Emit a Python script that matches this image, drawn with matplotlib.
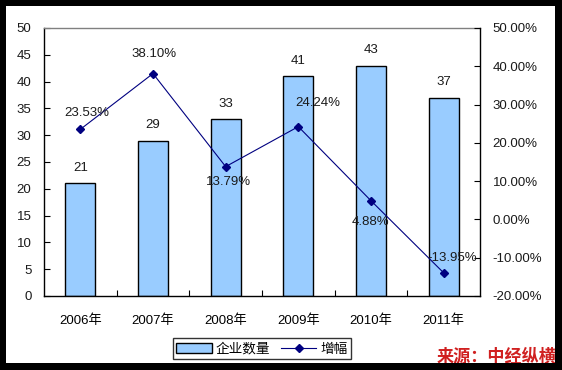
import matplotlib
matplotlib.use("Agg")
import matplotlib.pyplot as plt
from matplotlib.patches import Rectangle
from matplotlib.lines import Line2D
from matplotlib.ticker import FuncFormatter

plt.rcParams['font.family'] = ['Liberation Sans', 'Noto Sans CJK SC', 'DejaVu Sans']

categories = ['2006年', '2007年', '2008年', '2009年', '2010年', '2011年']
companies = [21, 29, 33, 41, 43, 37]
growth = [23.53, 38.10, 13.79, 24.24, 4.88, -13.95]
growth_labels = ['23.53%', '38.10%', '13.79%', '24.24%', '4.88%', '-13.95%']
growth_offsets = [(5, 12), (1, 14), (2, -11), (14, 17), (0, -15), (6, 11)]

W, H = 562, 370
fig = plt.figure(figsize=(W / 100, H / 100), dpi=100)
fig.patch.set_facecolor('white')

L, R, T, B = 44, 480, 28, 296
ax = fig.add_axes([L / W, (H - B) / H, (R - L) / W, (B - T) / H])
x = list(range(len(categories)))
bars = ax.bar(x, companies, width=0.41, color='#99CCFF', edgecolor='black', linewidth=1.0, zorder=2)
ax.set_xlim(-0.5, len(categories) - 0.5)
ax.set_ylim(0, 50)
ax.set_yticks(range(0, 51, 5))
ax.set_xticks(x)
ax.set_xticklabels(categories)
ax.set_xticks([i + 0.5 for i in range(len(categories) - 1)], minor=True)
ax.tick_params(axis='x', which='major', length=0, pad=13, labelsize=9.5)
ax.tick_params(axis='x', which='minor', direction='in', length=4, width=0.8)
ax.tick_params(axis='y', direction='in', length=4, width=0.8, pad=9, labelsize=9.5, labelcolor='#1a1a1a')
for s in ['left', 'bottom']:
    ax.spines[s].set_color('black')
    ax.spines[s].set_linewidth(1.0)
ax.spines['top'].set_color('#808080')
ax.spines['top'].set_linewidth(1.0)
ax.spines['right'].set_visible(False)

for xi, v in zip(x, companies):
    ax.annotate(str(v), (xi, v), xytext=(0, 11), textcoords='offset points',
                ha='center', va='center', fontsize=9.5, color='#1a1a1a')

ax2 = ax.twinx()
ax2.plot(x, growth, color='#000080', linewidth=0.8, marker='D', markersize=4.5,
         markerfacecolor='#000080', markeredgecolor='#000080', zorder=3)
ax2.set_ylim(-20, 50)
ax2.set_yticks(range(-20, 51, 10))
ax2.yaxis.set_major_formatter(FuncFormatter(lambda v, p: f'{v:.2f}%'))
ax2.tick_params(axis='y', direction='in', length=4, width=0.8, pad=9, labelsize=9.5, labelcolor='#1a1a1a')
for s in ['left', 'bottom', 'top']:
    ax2.spines[s].set_visible(False)
ax2.spines['right'].set_color('black')
ax2.spines['right'].set_linewidth(1.0)

for xi, v, lab, off in zip(x, growth, growth_labels, growth_offsets):
    ax2.annotate(lab, (xi, v), xytext=off, textcoords='offset points',
                 ha='center', va='center', fontsize=9.5, color='#1a1a1a')

handles = [Rectangle((0, 0), 1, 1, facecolor='#99CCFF', edgecolor='black', linewidth=1.0),
           Line2D([], [], color='#000080', linewidth=0.8, marker='D', markersize=4.5)]
leg = fig.legend(handles, ['企业数量', '增幅'], loc='center',
                 bbox_to_anchor=(262 / W, 1 - 348.5 / H), ncol=2, frameon=True,
                 fancybox=False, edgecolor='black', handlelength=2.6,
                 handletextpad=0.3, columnspacing=0.8, borderpad=0.25,
                 prop={'family': ['Noto Sans CJK SC'], 'size': 9.8})
leg.get_frame().set_linewidth(1.0)

fig.text(497 / W, 1 - 357 / H, '来源：中经纵横', ha='center', va='center', color='#D02020',
         fontsize=12.3, fontweight='bold', style='italic', family=['Noto Sans CJK SC'])

# black outer frame
for (x0, y0, w, h) in [(0, 0, 6, H), (0, 0, W, 6), (555, 0, 7, H), (0, 363, W, 7)]:
    fig.patches.append(Rectangle((x0 / W, 1 - (y0 + h) / H), w / W, h / H,
                                 transform=fig.transFigure, facecolor='black',
                                 edgecolor='none', zorder=10))

fig.savefig('out.png', dpi=100)
